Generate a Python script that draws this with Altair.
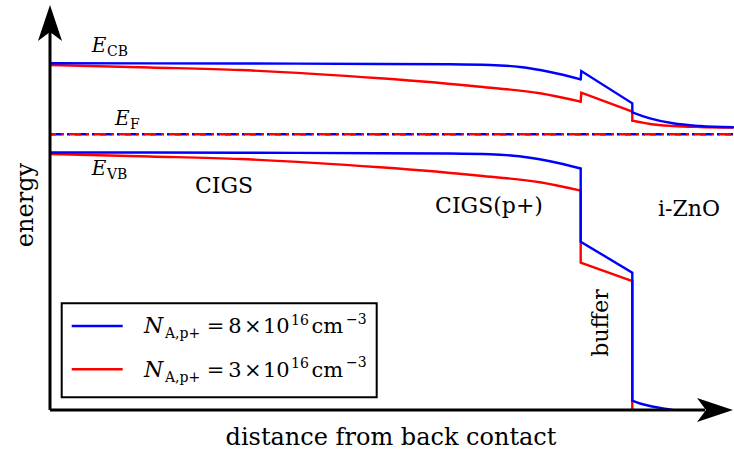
import altair as alt
import pandas as pd

# Band diagram of a CIGS cell: distance and energy in arbitrary units
# (distance 0 = back contact, energy 0 = bottom of the drawn window)

# conduction band edge, N_A,p+ = 8e16 cm^-3
blue_cb_x = [0, 1.9, 3.3, 4.0, 4.4, 4.7, 5.0, 5.307, 5.313, 5.823, 5.823, 6.0, 6.23, 6.5, 6.83]
blue_cb_e = [3.467, 3.465, 3.46, 3.457, 3.45, 3.43, 3.38, 3.307, 3.39, 3.067, 2.977, 2.917, 2.867, 2.84, 2.827]
# valence band edge, N_A,p+ = 8e16 cm^-3
blue_vb_x = [0, 1.9, 3.3, 4.0, 4.4, 4.8, 5.0, 5.307, 5.307, 5.823, 5.823, 5.9, 6.0, 6.167, 6.4]
blue_vb_e = [2.575, 2.573, 2.568, 2.565, 2.558, 2.523, 2.488, 2.415, 1.683, 1.373, 0.093, 0.065, 0.04, 0.01, -0.03]
# conduction band edge, N_A,p+ = 3e16 cm^-3
red_cb_x = [0, 1.0, 1.9, 3.3, 4.3, 4.9, 5.307, 5.313, 5.823, 5.823, 6.0, 6.23, 6.5, 6.83]
red_cb_e = [3.45, 3.425, 3.40, 3.317, 3.233, 3.167, 3.083, 3.173, 2.983, 2.893, 2.86, 2.84, 2.83, 2.825]
# valence band edge, N_A,p+ = 3e16 cm^-3
red_vb_x = [0, 1.0, 1.9, 3.3, 4.3, 4.9, 5.307, 5.307, 5.823, 5.823]
red_vb_e = [2.56, 2.535, 2.51, 2.427, 2.343, 2.277, 2.193, 1.473, 1.29, 0.0]

# index ranges: smooth absorber part, straight interface/buffer part, smooth window tail
blue_cb_parts = [(0, 7), (7, 10), (10, 14)]
blue_vb_parts = [(0, 7), (7, 10), (10, 14)]
red_cb_parts = [(0, 6), (6, 9), (9, 13)]
red_vb_parts = [(0, 6), (6, 9)]

fermi_level = 2.757
x_end = 6.83

BLUE = "#0000ff"
RED = "#ff0000"
FONT = "DejaVu Serif"

xs = alt.Scale(domain=[0, 6.84], nice=False, zero=False)
ys = alt.Scale(domain=[0, 4.05], nice=False, zero=False)


def split_band(xv, ev, parts, name):
    smooth, straight = [], []
    for k, (a, b) in enumerate(parts):
        seg = pd.DataFrame({"x": xv[a:b + 1], "e": ev[a:b + 1], "seg": f"{name}{k}"})
        seg["i"] = range(len(seg))
        (straight if k == 1 else smooth).append(seg)
    return smooth, straight


def band_layers(curves, color):
    smooth, straight = [], []
    for xv, ev, parts, name in curves:
        s, t = split_band(xv, ev, parts, name)
        smooth += s
        straight += t
    enc = dict(
        x=alt.X("x:Q", scale=xs, axis=None),
        y=alt.Y("e:Q", scale=ys, axis=None),
        detail="seg:N",
        order="i:Q",
    )
    style = dict(color=color, strokeWidth=2.4, clip=True, strokeCap="round", strokeJoin="miter")
    return [
        alt.Chart(pd.concat(smooth)).mark_line(interpolate="monotone", **style).encode(**enc),
        alt.Chart(pd.concat(straight)).mark_line(interpolate="linear", **style).encode(**enc),
    ]


red_layers = band_layers(
    [(red_cb_x, red_cb_e, red_cb_parts, "cb"), (red_vb_x, red_vb_e, red_vb_parts, "vb")], RED
)
blue_layers = band_layers(
    [(blue_cb_x, blue_cb_e, blue_cb_parts, "cb"), (blue_vb_x, blue_vb_e, blue_vb_parts, "vb")], BLUE
)

fermi_df = pd.DataFrame({"x": [0, x_end], "e": [fermi_level, fermi_level]})


def fermi_line(color, offset):
    return alt.Chart(fermi_df).mark_line(
        color=color, strokeWidth=2.4, strokeDash=[12, 5, 3, 5], strokeDashOffset=offset
    ).encode(x=alt.X("x:Q", scale=xs, axis=None), y=alt.Y("e:Q", scale=ys, axis=None))


# axes drawn as arrows
axis_df = pd.DataFrame({"x": [0, 0], "x2": [0, 6.55], "y": [0, 0], "y2": [3.8, 0]})
axes = alt.Chart(axis_df).mark_rule(color="black", strokeWidth=3).encode(
    x=alt.X("x:Q", scale=xs, axis=None), x2="x2:Q",
    y=alt.Y("y:Q", scale=ys, axis=None), y2="y2:Q",
)
arrow_df = pd.DataFrame({"x": [0, 6.65], "y": [3.87, 0], "a": [0, 90]})
arrow_path = "M0,-1L0.67,1L0,0.5L-0.67,1Z"
arrows = alt.Chart(arrow_df).mark_point(
    shape=arrow_path, filled=True, size=1296, color="black", opacity=1, strokeWidth=0
).encode(
    x=alt.X("x:Q", scale=xs, axis=None),
    y=alt.Y("y:Q", scale=ys, axis=None),
    angle=alt.Angle("a:Q", scale=None),
)

# band-edge symbols: italic E with upright subscripts
sym_e_x = [0.417, 0.65, 0.417]
sym_e_y = [3.583, 2.85, 2.35]
sym_sub = ["CB", "F", "VB"]
sym_sub_x = [0.57, 0.80, 0.57]
sym_sub_y = [3.54, 2.807, 2.31]

e_df = pd.DataFrame({"x": sym_e_x, "y": sym_e_y, "t": ["E"] * 3})
sub_df = pd.DataFrame({"x": sym_sub_x, "y": sym_sub_y, "t": sym_sub})
e_text = alt.Chart(e_df).mark_text(
    font=FONT, fontStyle="italic", fontSize=20, align="left", baseline="alphabetic"
).encode(x=alt.X("x:Q", scale=xs, axis=None), y=alt.Y("y:Q", scale=ys, axis=None), text="t:N")
sub_text = alt.Chart(sub_df).mark_text(
    font=FONT, fontSize=14, align="left", baseline="alphabetic"
).encode(x=alt.X("x:Q", scale=xs, axis=None), y=alt.Y("y:Q", scale=ys, axis=None), text="t:N")

# layer names and axis titles
label_text = ["CIGS", "CIGS(p+)", "i-ZnO", "buffer", "energy", "distance from back contact"]
label_x = [1.74, 4.39, 6.39, 5.58, -0.17, 3.41]
label_y = [2.167, 1.967, 1.943, 0.87, 2.05, -0.35]
label_angle = [0, 0, 0, 270, 270, 0]
label_size = [22, 22, 22, 22, 24, 24]
labels_df = pd.DataFrame({"x": label_x, "y": label_y, "t": label_text, "a": label_angle, "s": label_size})
labels = alt.Chart(labels_df).mark_text(
    font=FONT, align="center", baseline="alphabetic", color="black"
).encode(
    x=alt.X("x:Q", scale=xs, axis=None),
    y=alt.Y("y:Q", scale=ys, axis=None),
    text="t:N",
    angle=alt.Angle("a:Q", scale=None),
    size=alt.Size("s:Q", scale=None),
)

# legend box
box_df = pd.DataFrame({"x": [0.117], "x2": [3.267], "y": [0.127], "y2": [1.067]})
box = alt.Chart(box_df).mark_rect(fill="white", stroke="black", strokeWidth=2).encode(
    x=alt.X("x:Q", scale=xs, axis=None), x2="x2:Q",
    y=alt.Y("y:Q", scale=ys, axis=None), y2="y2:Q",
)
legend_doping = ["8", "3"]
legend_colors = [BLUE, RED]
legend_baseline = [0.767, 0.333]
legend_line_y = [0.84, 0.407]

swatch_df = pd.DataFrame({
    "x": [0.217, 0.217], "x2": [0.727, 0.727], "y": legend_line_y, "c": legend_colors
})
swatches = alt.Chart(swatch_df).mark_rule(strokeWidth=2.4).encode(
    x=alt.X("x:Q", scale=xs, axis=None), x2="x2:Q",
    y=alt.Y("y:Q", scale=ys, axis=None),
    color=alt.Color("c:N", scale=None),
)

# pieces of "N_{A,p+} = n x 10^16 cm^-3": left edge and baseline of each piece
main_rows, small_rows, ital_rows = [], [], []
for d, base in zip(legend_doping, legend_baseline):
    ital_rows.append({"x": 0.94, "y": base, "t": "N"})
    small_rows += [
        {"x": 1.15, "y": base - 0.05, "t": "A,p+"},
        {"x": 2.41, "y": base + 0.083, "t": "16"},
        {"x": 2.96, "y": base + 0.095, "t": "\u22123"},
    ]
    main_rows += [
        {"x": 1.567, "y": base, "t": "="},
        {"x": 1.783, "y": base, "t": d},
        {"x": 1.94, "y": base, "t": "\u00d7"},
        {"x": 2.13, "y": base, "t": "10"},
        {"x": 2.615, "y": base, "t": "cm"},
    ]


def piece_layer(rows, size, style="normal"):
    return alt.Chart(pd.DataFrame(rows)).mark_text(
        font=FONT, fontSize=size, fontStyle=style, align="left", baseline="alphabetic"
    ).encode(x=alt.X("x:Q", scale=xs, axis=None), y=alt.Y("y:Q", scale=ys, axis=None), text="t:N")


chart = alt.layer(
    *red_layers,
    *blue_layers,
    fermi_line(BLUE, 0),
    fermi_line(RED, 6),
    axes,
    arrows,
    e_text,
    sub_text,
    labels,
    box,
    swatches,
    piece_layer(ital_rows, 22, "italic"),
    piece_layer(main_rows, 21),
    piece_layer(small_rows, 14),
).properties(
    width=684,
    height=405,
    autosize=alt.AutoSizeParams(type="none"),
    padding={"left": 50, "top": 5, "right": 0, "bottom": 45},
).configure_view(stroke=None)

chart.save("out.html", embed_options={"renderer": "svg", "actions": False})
